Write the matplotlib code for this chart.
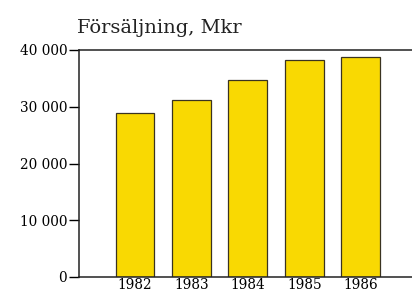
import matplotlib.pyplot as plt

years = ['1982', '1983', '1984', '1985', '1986']
sales = [28900, 31200, 34700, 38300, 38800]
yticks = [0, 10000, 20000, 30000, 40000]
ylabels = ['0', '10 000', '20 000', '30 000', '40 000']

plt.rcParams['font.family'] = ['DejaVu Serif']

fig = plt.figure(figsize=(4.12, 2.95), dpi=100)
ax = fig.add_axes([79/412, 18/295, 333/412, 227/295])

x = range(len(years))
ax.bar(x, sales, width=0.69, color='#F9D902', edgecolor='#3a3320', linewidth=0.9)

ax.set_xlim(-0.993, 4.91)
ax.set_ylim(0, 40000)
ax.set_xticks(list(x))
ax.set_xticklabels(years, fontsize=9.8)
ax.set_yticks(yticks)
ax.set_yticklabels(ylabels, fontsize=9.8)
ax.tick_params(axis='x', length=0, pad=1)
ax.tick_params(axis='y', length=7, width=1, pad=1.5, direction='out')

ax.spines['right'].set_visible(False)
for s in ['left', 'bottom', 'top']:
    ax.spines[s].set_linewidth(1.1)
    ax.spines[s].set_color('#222222')

fig.text(77/412, 1 - 33/295, 'Försäljning, Mkr', fontsize=14, color='#222222')

fig.savefig('out.png', dpi=100)
